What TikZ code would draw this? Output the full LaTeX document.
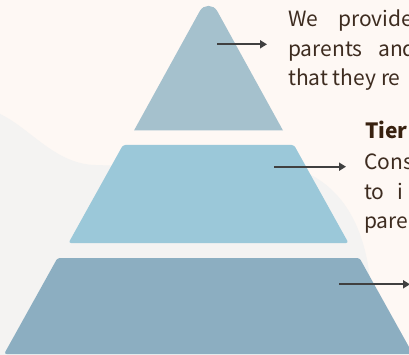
\documentclass[tikz,border=0pt]{standalone}
\usepackage{fontspec}
\setmainfont{Noto Sans CJK SC}
\usetikzlibrary{arrows.meta}
\definecolor{bgcream}{HTML}{FEF8F4}
\definecolor{blobgray}{HTML}{F4F3F2}
\definecolor{toptier}{HTML}{A5C1CD}
\definecolor{midtier}{HTML}{9BC8D9}
\definecolor{bottier}{HTML}{8CAEC1}
\definecolor{arrowgray}{HTML}{404040}
\definecolor{textbrown}{HTML}{3E2C20}
\definecolor{headbrown}{HTML}{38210F}
\begin{document}
\begin{tikzpicture}[x=1pt,y=-1pt,
  tiershape/.style={rounded corners=2.5pt},
  conn/.style={draw=arrowgray, line width=2.2pt, -{Triangle[length=7pt,width=8pt]}},
  body/.style={anchor=base west, inner sep=0pt, text=textbrown, font=\fontsize{21}{24}\selectfont},
  head/.style={anchor=base west, inner sep=0pt, text=headbrown, font=\fontsize{21}{24}\selectfont\bfseries}
]
\fill[bgcream] (0,0) rectangle (409,355);
\useasboundingbox (0,0) rectangle (409,355);
\clip (0,0) rectangle (409,355);
% background blob
\fill[blobgray] (0,114) .. controls (30,128) and (55,164) .. (95,165) -- (305,172)
  .. controls (345,190) and (365,230) .. (370,280) -- (370,355) -- (0,355) -- cycle;
% pyramid tiers
\fill[toptier] (134,130.5) -- (199.8,11.05) .. controls (203.6,4.17) and (213.4,4.17) .. (217.2,11.05) -- (283,130.5) -- cycle;
\fill[midtier, tiershape] (123,145) -- (294,145) -- (348.5,243) -- (68.5,243) -- cycle;
\fill[bottier, tiershape] (57.5,258) -- (359.5,258) -- (412.9,354) -- (4.1,354) -- cycle;
% connectors
\coordinate (a1s) at (217,44.3);
\coordinate (a1e) at (267,44.3);
\coordinate (a2s) at (274,166.7);
\coordinate (a2e) at (346,166.7);
\coordinate (a3s) at (339,284.3);
\coordinate (a3e) at (410,284.3);
\draw[conn] (a1s) -- (a1e);
\draw[conn] (a2s) -- (a2e);
\draw[conn] (a3s) -- (a3e);
% texts
\node[body] (t1) at (288,27) {\makebox[50pt][l]{We}provide};
\node[body] (t2) at (288,56.5) {\makebox[90pt][l]{parents}and};
\node[body] (t3) at (288,86) {that they re};
\node[head] (h2) at (365,139) {Tier};
\node[body] (m1) at (364,170) {Cons};
\node[body] (m2) at (364,199.3) {\makebox[33.5pt][l]{to}i};
\node[body] (m3) at (364,228.3) {pare};
\end{tikzpicture}
\end{document}
